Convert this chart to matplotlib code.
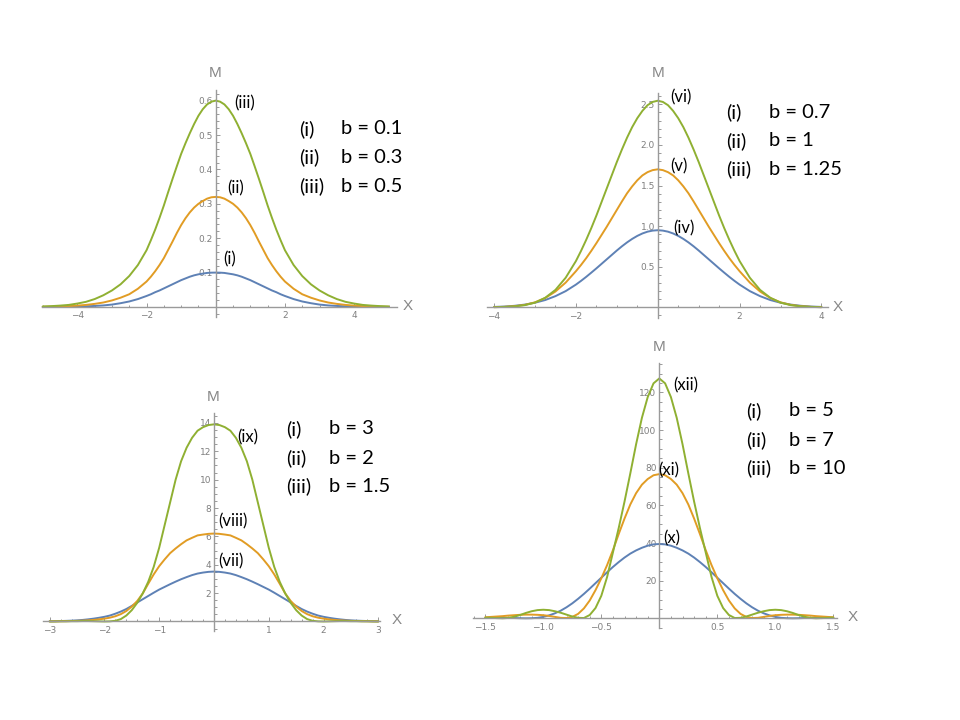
import numpy as np
import matplotlib
matplotlib.use("Agg")
import matplotlib.pyplot as plt
from matplotlib.ticker import MultipleLocator

# cores padrão do Mathematica
BLUE = "#5E81B5"
ORANGE = "#E19C24"
GREEN = "#8FB032"
AXIS = "#9a9a9a"
TICKTXT = "#7f7f7f"

# ---------------- painel 1 (b = 0.1, 0.3, 0.5) ----------------
x1 = [-5, -4.75, -4.5, -4.25, -4, -3.75, -3.5, -3.25, -3, -2.75, -2.5, -2.25,
      -2, -1.875, -1.75, -1.625, -1.5, -1.375, -1.25, -1.125, -1, -0.875, -0.75,
      -0.625, -0.5, -0.375, -0.25, -0.125,
      0,
      0.125, 0.25, 0.375, 0.5, 0.625, 0.75, 0.875, 1, 1.125, 1.25, 1.375, 1.5,
      1.625, 1.75, 1.875, 2, 2.25, 2.5, 2.75, 3, 3.25, 3.5, 3.75, 4, 4.25, 4.5,
      4.75, 5]
m1_i = [0.0001, 0.0002, 0.0004, 0.0007, 0.0012, 0.002, 0.003, 0.0045, 0.007, 0.011,
        0.016, 0.023, 0.032, 0.037, 0.043, 0.048, 0.054, 0.060, 0.066, 0.072, 0.078,
        0.083, 0.088, 0.092, 0.095, 0.097, 0.099, 0.0998,
        0.100,
        0.0998, 0.099, 0.097, 0.095, 0.092, 0.088, 0.083, 0.078, 0.072, 0.066, 0.060,
        0.054, 0.048, 0.043, 0.037, 0.032, 0.023, 0.016, 0.011, 0.007, 0.0045, 0.003,
        0.002, 0.0012, 0.0007, 0.0004, 0.0002, 0.0001]
m1_ii = [0.0006, 0.001, 0.0016, 0.0025, 0.004, 0.006, 0.009, 0.013, 0.019, 0.027,
         0.037, 0.053, 0.074, 0.088, 0.104, 0.122, 0.142, 0.166, 0.190, 0.215, 0.238,
         0.258, 0.275, 0.289, 0.300, 0.308, 0.315, 0.319,
         0.320,
         0.319, 0.315, 0.308, 0.300, 0.289, 0.275, 0.258, 0.238, 0.215, 0.190, 0.166,
         0.142, 0.122, 0.104, 0.088, 0.074, 0.053, 0.037, 0.027, 0.019, 0.013, 0.009,
         0.006, 0.004, 0.0025, 0.0016, 0.001, 0.0006]
m1_iii = [0.0015, 0.0025, 0.004, 0.006, 0.010, 0.015, 0.023, 0.034, 0.048, 0.066,
          0.090, 0.122, 0.165, 0.194, 0.225, 0.259, 0.295, 0.334, 0.372, 0.409, 0.445,
          0.476, 0.505, 0.532, 0.556, 0.575, 0.589, 0.597,
          0.600,
          0.597, 0.589, 0.575, 0.556, 0.532, 0.505, 0.476, 0.445, 0.409, 0.372, 0.334,
          0.295, 0.259, 0.225, 0.194, 0.165, 0.122, 0.090, 0.066, 0.048, 0.034, 0.023,
          0.015, 0.010, 0.006, 0.004, 0.0025, 0.0015]

# ---------------- painel 2 (b = 0.7, 1, 1.25) ----------------
x2 = [-4, -3.75, -3.5, -3.25, -3, -2.75, -2.5, -2.25,
      -2, -1.875, -1.75, -1.625, -1.5, -1.375, -1.25, -1.125, -1, -0.875, -0.75,
      -0.625, -0.5, -0.375, -0.25, -0.125,
      0,
      0.125, 0.25, 0.375, 0.5, 0.625, 0.75, 0.875, 1, 1.125, 1.25, 1.375, 1.5,
      1.625, 1.75, 1.875, 2, 2.25, 2.5, 2.75, 3, 3.25, 3.5, 3.75, 4]
m2_iv = [0.005, 0.01, 0.019, 0.034, 0.057, 0.09, 0.138, 0.20,
         0.28, 0.326, 0.375, 0.427, 0.48, 0.535, 0.59, 0.645, 0.70, 0.752, 0.80,
         0.843, 0.88, 0.91, 0.932, 0.945,
         0.95,
         0.945, 0.932, 0.91, 0.88, 0.843, 0.80, 0.752, 0.70, 0.645, 0.59, 0.535,
         0.48, 0.427, 0.375, 0.326, 0.28, 0.20, 0.138, 0.09, 0.057, 0.034, 0.019,
         0.01, 0.005]
m2_v = [0.0025, 0.006, 0.014, 0.03, 0.062, 0.115, 0.195, 0.305,
        0.445, 0.522, 0.605, 0.695, 0.79, 0.89, 0.99, 1.095, 1.20, 1.305, 1.405,
        1.49, 1.565, 1.625, 1.665, 1.69,
        1.70,
        1.69, 1.665, 1.625, 1.565, 1.49, 1.405, 1.305, 1.20, 1.095, 0.99, 0.89,
        0.79, 0.695, 0.605, 0.522, 0.445, 0.305, 0.195, 0.115, 0.062, 0.03, 0.014,
        0.006, 0.0025]
m2_vi = [0.002, 0.005, 0.012, 0.027, 0.058, 0.118, 0.215, 0.365,
         0.57, 0.695, 0.83, 0.975, 1.13, 1.295, 1.46, 1.625, 1.79, 1.945, 2.09,
         2.22, 2.33, 2.42, 2.49, 2.53,
         2.545,
         2.53, 2.49, 2.42, 2.33, 2.22, 2.09, 1.945, 1.79, 1.625, 1.46, 1.295,
         1.13, 0.975, 0.83, 0.695, 0.57, 0.365, 0.215, 0.118, 0.058, 0.027, 0.012,
         0.005, 0.002]

# ---------------- painel 3 (b = 3, 2, 1.5) ----------------
x3 = np.linspace(-3, 3, 61)
m3_vii = [0.017, 0.024, 0.033, 0.045, 0.06, 0.08, 0.11, 0.15, 0.2, 0.26, 0.33, 0.42,
          0.55, 0.7, 0.88, 1.1, 1.34, 1.57, 1.8, 2.03, 2.25, 2.44, 2.63, 2.81, 2.98,
          3.13, 3.27, 3.38, 3.45, 3.5,
          3.52,
          3.5, 3.45, 3.38, 3.27, 3.13, 2.98, 2.81, 2.63, 2.44, 2.25, 2.03, 1.8, 1.57,
          1.34, 1.1, 0.88, 0.7, 0.55, 0.42, 0.33, 0.26, 0.2, 0.15, 0.11, 0.08, 0.06,
          0.045, 0.033, 0.024, 0.017]
m3_viii = [0.008, 0.012, 0.017, 0.024, 0.033, 0.045, 0.06, 0.08, 0.11, 0.15, 0.2,
           0.27, 0.37, 0.52, 0.74, 1.05, 1.45, 1.98, 2.66, 3.32, 3.9, 4.38, 4.82,
           5.15, 5.45, 5.72, 5.9, 6.07, 6.13, 6.18,
           6.2,
           6.18, 6.13, 6.07, 5.9, 5.72, 5.45, 5.15, 4.82, 4.38, 3.9, 3.32, 2.66, 1.98,
           1.45, 1.05, 0.74, 0.52, 0.37, 0.27, 0.2, 0.15, 0.11, 0.08, 0.06, 0.045,
           0.033, 0.024, 0.017, 0.012, 0.008]
m3_ix = [0.0, 0.0, 0.01, 0.01, 0.02, 0.02, 0.03, 0.03, 0.02, 0.01, 0.0, 0.01, 0.05,
         0.17, 0.42, 0.8, 1.32, 1.98, 2.8, 3.85, 5.2, 6.8, 8.4, 10.0, 11.3, 12.25,
         12.95, 13.45, 13.7, 13.85,
         13.9,
         13.85, 13.7, 13.45, 12.95, 12.25, 11.3, 10.0, 8.4, 6.8, 5.2, 3.85, 2.8, 1.98,
         1.32, 0.8, 0.42, 0.17, 0.05, 0.01, 0.0, 0.01, 0.02, 0.03, 0.03, 0.02, 0.02,
         0.01, 0.01, 0.0, 0.0]

# ---------------- painel 4 (b = 5, 7, 10) ----------------
x4 = np.linspace(-1.5, 1.5, 61)
m4_x = [0.25, 0.3, 0.35, 0.35, 0.3, 0.2, 0.1, 0.05, 0.1, 0.3, 0.8, 1.6, 2.7, 4.1,
        5.9, 8.0, 10.4, 13.0, 15.8, 18.7, 21.6, 24.5, 27.3, 29.9, 32.3, 34.4, 36.1,
        37.5, 38.6, 39.3,
        39.5,
        39.3, 38.6, 37.5, 36.1, 34.4, 32.3, 29.9, 27.3, 24.5, 21.6, 18.7, 15.8, 13.0,
        10.4, 8.0, 5.9, 4.1, 2.7, 1.6, 0.8, 0.3, 0.1, 0.05, 0.1, 0.2, 0.3, 0.35,
        0.35, 0.3, 0.25]
m4_xi = [0.6, 0.8, 1.0, 1.2, 1.5, 1.7, 1.9, 2.0, 2.0, 1.9, 1.7, 1.3, 0.8, 0.3, 0.2,
         0.8, 2.4, 5.3, 9.5, 15.0, 21.3, 28.3, 36.2, 44.8, 53.0, 60.5, 66.5, 71.0,
         74.0, 76.0,
         76.6,
         76.0, 74.0, 71.0, 66.5, 60.5, 53.0, 44.8, 36.2, 28.3, 21.3, 15.0, 9.5, 5.3,
         2.4, 0.8, 0.2, 0.3, 0.8, 1.3, 1.7, 1.9, 2.0, 2.0, 1.9, 1.7, 1.5, 1.2, 1.0,
         0.8, 0.6]
m4_xii = [0.4, 0.3, 0.15, 0.05, 0.25, 0.9, 1.8, 2.9, 3.8, 4.4, 4.6, 4.4, 3.8, 3.0,
          2.0, 1.0, 0.3, 0.2, 1.8, 5.5, 12.0, 22.0, 35.0, 48.0, 62.0, 77.0, 92.5,
          106.5, 117.5, 124.8,
          127.4,
          124.8, 117.5, 106.5, 92.5, 77.0, 62.0, 48.0, 35.0, 22.0, 12.0, 5.5, 1.8,
          0.2, 0.3, 1.0, 2.0, 3.0, 3.8, 4.4, 4.6, 4.4, 3.8, 2.9, 1.8, 0.9, 0.25, 0.05,
          0.15, 0.3, 0.4]

# textos das legendas
leg_tags = ["(i)", "(ii)", "(iii)"]
leg_b1 = ["b = 0.1", "b = 0.3", "b = 0.5"]
leg_b2 = ["b = 0.7", "b = 1", "b = 1.25"]
leg_b3 = ["b = 3", "b = 2", "b = 1.5"]
leg_b4 = ["b = 5", "b = 7", "b = 10"]

# ticks
xt1 = [-4, -2, 2, 4]
yt1 = [0.1, 0.2, 0.3, 0.4, 0.5, 0.6]
xt2 = [-4, -2, 2, 4]
yt2 = [0.5, 1.0, 1.5, 2.0, 2.5]
xt3 = [-3, -2, -1, 1, 2, 3]
yt3 = [2, 4, 6, 8, 10, 12, 14]
xt4 = [-1.5, -1.0, -0.5, 0.5, 1.0, 1.5]
yt4 = [20, 40, 60, 80, 100, 120]

W, H = 960, 720
fig = plt.figure(figsize=(9.6, 7.2), dpi=100)
fig.patch.set_facecolor("white")
FONTE = ["Lato", "DejaVu Sans"]


def px_axes(left, top, right, bottom):
    # retângulo em pixels -> fração da figura
    return fig.add_axes([left / W, 1 - bottom / H, (right - left) / W, (bottom - top) / H])


def estilo(ax, xlim, ylim, xt, yt, xminor, yminor, xfmt, yfmt):
    ax.set_xlim(*xlim)
    ax.set_ylim(*ylim)
    ax.patch.set_alpha(0)
    for s in ["top", "right"]:
        ax.spines[s].set_visible(False)
    ax.spines["left"].set_position(("data", 0))
    ax.spines["bottom"].set_position(("data", 0))
    for s in ["left", "bottom"]:
        ax.spines[s].set_color(AXIS)
        ax.spines[s].set_linewidth(1.0)
    ax.set_xticks(xt)
    ax.set_xticklabels([xfmt.format(v).replace("-", "\u2212") for v in xt])
    ax.set_yticks(yt)
    ax.set_yticklabels([yfmt.format(v) for v in yt])
    ax.xaxis.set_minor_locator(MultipleLocator(xminor))
    ax.yaxis.set_minor_locator(MultipleLocator(yminor))
    ax.tick_params(which="both", direction="in", color=AXIS, width=0.7,
                   labelsize=6.5, labelcolor=TICKTXT)
    ax.tick_params(which="major", length=3.2)
    ax.tick_params(which="minor", length=1.8)
    ax.tick_params(axis="x", pad=3)
    ax.tick_params(axis="y", pad=2)


def curvas(ax, x, ys):
    for y, c in zip(ys, [BLUE, ORANGE, GREEN]):
        ax.plot(x, y, color=c, lw=1.4, solid_joinstyle="round",
                solid_capstyle="round", clip_on=False)


def rotulo(ax, x, y, s):
    ax.text(x, y, s, fontsize=12, color="black", ha="left", va="center", family=FONTE)


def legenda(xtag, xb, ys, textos):
    for t, b, yy in zip(leg_tags, textos, ys):
        fig.text(xtag / W, 1 - yy / H, t, fontsize=14.5, ha="left", va="center",
                 family=FONTE)
        fig.text(xb / W, 1 - yy / H, b, fontsize=14.5, ha="left", va="center",
                 family=FONTE)


def eixos_nomes(mx, my, xx, xy):
    kw = dict(fontsize=11, color="#888888", ha="center", va="center",
              family=["Liberation Sans Narrow", "Liberation Sans", "DejaVu Sans"])
    fig.text(mx / W, 1 - my / H, "M", **kw)
    fig.text(xx / W, 1 - xy / H, "X", **kw)


# painel 1
ax1 = px_axes(41.7, 90.3, 396.7, 317.3)
estilo(ax1, (-5.03, 5.23), (-0.03, 0.63), xt1, yt1, 0.5, 0.02, "{:g}", "{:.1f}")
curvas(ax1, x1, [m1_i, m1_ii, m1_iii])
rotulo(ax1, 0.53, 0.593, "(iii)")
rotulo(ax1, 0.33, 0.346, "(ii)")
rotulo(ax1, 0.21, 0.137, "(i)")
legenda(299, 341, [129, 157.5, 186], leg_b1)
eixos_nomes(215, 73, 408, 306)

# painel 2
ax2 = px_axes(486.7, 93.0, 828.0, 317.9)
estilo(ax2, (-4.18, 4.16), (-0.13, 2.64), xt2, yt2, 0.5, 0.1, "{:g}", "{:.1f}")
curvas(ax2, x2, [m2_iv, m2_v, m2_vi])
rotulo(ax2, 0.30, 2.59, "(vi)")
rotulo(ax2, 0.30, 1.74, "(v)")
rotulo(ax2, 0.37, 0.977, "(iv)")
legenda(726, 769, [112.5, 141, 169.5], leg_b2)
eixos_nomes(657.7, 73, 838, 307)

# painel 3
ax3 = px_axes(43.3, 413.0, 380.0, 631.0)
estilo(ax3, (-3.115, 3.03), (-0.67, 14.7), xt3, yt3, 0.2, 0.5, "{:g}", "{:g}")
curvas(ax3, x3, [m3_vii, m3_viii, m3_ix])
rotulo(ax3, 0.42, 13.0, "(ix)")
rotulo(ax3, 0.07, 7.03, "(viii)")
rotulo(ax3, 0.07, 4.21, "(vii)")
legenda(286, 329, [429, 458, 486.5], leg_b3)
eixos_nomes(213, 397, 397, 620.5)

# painel 4
ax4 = px_axes(473.0, 363.0, 836.7, 628.0)
estilo(ax4, (-1.606, 1.529), (-5.1, 135.6), xt4, yt4, 0.1, 5, "{:.1f}", "{:g}")
curvas(ax4, x4, [m4_x, m4_xi, m4_xii])
rotulo(ax4, 0.118, 123.9, "(xii)")
rotulo(ax4, -0.011, 78.8, "(xi)")
rotulo(ax4, 0.032, 42.5, "(x)")
legenda(746, 789, [411, 440, 468], leg_b4)
eixos_nomes(659, 347, 853, 617)

fig.savefig("out.png", dpi=100, facecolor="white")
